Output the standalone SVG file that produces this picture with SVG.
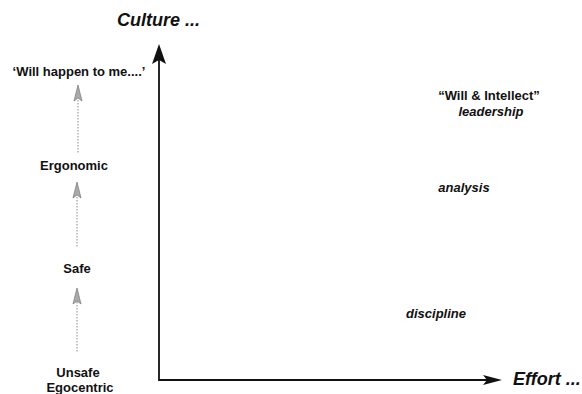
<svg xmlns="http://www.w3.org/2000/svg" width="582" height="394" viewBox="0 0 582 394">
<defs>
<style>
text{font-family:"Liberation Sans",Arial,sans-serif;font-weight:bold;fill:#111}
.lbl{font-size:13px;text-anchor:middle}
.it{font-style:italic}
.ax{font-size:18px;font-style:italic}
.dot{stroke:#888;stroke-width:1;stroke-dasharray:1.5 1.5;fill:none}
.dh{fill:#aaa;stroke:#777;stroke-width:0.7}
.axis{stroke:#111;stroke-width:1.8;fill:none}
</style>
</defs>
<rect width="582" height="394" fill="#fff"/>
<g id="connectors">
<path class="axis" d="M159,56 V380 H490"/>
<path d="M159,44 L166,64 L159,60 L152,64 Z" fill="#111"/>
<path d="M502,380 L483,375 L487,380 L483,385 Z" fill="#111"/>
<line class="dot" x1="78" y1="100" x2="78" y2="153"/>
<path class="dh" d="M78,85 L82,101 L78,98 L74,101 Z"/>
<line class="dot" x1="77" y1="197" x2="77" y2="247"/>
<path class="dh" d="M77,182 L81,198 L77,195 L73,198 Z"/>
<line class="dot" x1="77" y1="302" x2="77" y2="353"/>
<path class="dh" d="M77,288 L81,304 L77,301 L73,304 Z"/>
</g>
<g id="culture"><text class="ax" x="117" y="26">Culture ...</text></g>
<g id="effort"><text class="ax" x="513" y="385">Effort ...</text></g>
<g id="will-happen"><text class="lbl" x="79" y="76">‘Will happen to me....’</text></g>
<g id="ergonomic"><text class="lbl" x="74" y="170">Ergonomic</text></g>
<g id="safe"><text class="lbl" x="77" y="273">Safe</text></g>
<g id="unsafe"><text class="lbl" x="78" y="377">Unsafe</text><text class="lbl" x="80" y="392">Egocentric</text></g>
<g id="leadership"><text class="lbl" x="489" y="100">“Will &amp; Intellect”</text><text class="lbl it" x="491" y="116">leadership</text></g>
<g id="analysis"><text class="lbl it" x="464" y="192">analysis</text></g>
<g id="discipline"><text class="lbl it" x="436" y="318">discipline</text></g>
</svg>
